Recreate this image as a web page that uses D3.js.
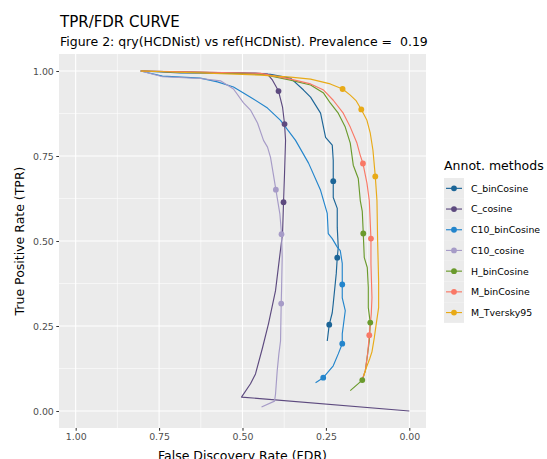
<!DOCTYPE html>
<html>
<head>
<meta charset="utf-8">
<script src="https://cdn.jsdelivr.net/npm/d3@7"></script>
<style>
  html, body { margin: 0; padding: 0; background: #ffffff; }
  svg { display: block; font-family: "DejaVu Sans", sans-serif; }
  .keep-space { white-space: pre; }
</style>
</head>
<body>
<svg id="chart" width="547" height="459"></svg>
<script>
// Series names, in legend order, and their colours
const methods = ["C_binCosine", "C_cosine", "C10_binCosine", "C10_cosine", "H_binCosine", "M_binCosine", "M_Tversky95"];
const colors  = ["#1c6597", "#5d4a7f", "#2385cc", "#a69bc7", "#6a9a2c", "#f97866", "#e8aa17"];

// Curves: [FDR, TPR]
const C_binCosine = [[0.805,1.0],[0.686,0.994],[0.506,0.993],[0.416,0.990],[0.356,0.979],[0.317,0.944],[0.296,0.923],[0.266,0.876],[0.251,0.805],[0.231,0.782],[0.228,0.737],[0.228,0.676],[0.228,0.628],[0.216,0.596],[0.216,0.540],[0.213,0.481],[0.216,0.451],[0.219,0.404],[0.228,0.316],[0.231,0.289],[0.240,0.254],[0.246,0.206]];
const C_cosine = [[0.805,1.0],[0.626,0.996],[0.461,0.994],[0.425,0.991],[0.410,0.973],[0.392,0.941],[0.380,0.894],[0.374,0.844],[0.371,0.796],[0.374,0.699],[0.377,0.614],[0.380,0.522],[0.389,0.451],[0.401,0.354],[0.422,0.257],[0.440,0.186],[0.461,0.109],[0.476,0.080],[0.503,0.041],[0.0,0.0]];
const C10_binCosine = [[0.805,1.0],[0.740,0.985],[0.626,0.979],[0.575,0.968],[0.527,0.953],[0.476,0.923],[0.425,0.891],[0.386,0.855],[0.341,0.796],[0.302,0.729],[0.266,0.649],[0.246,0.581],[0.243,0.522],[0.231,0.507],[0.216,0.482],[0.207,0.472],[0.201,0.434],[0.201,0.372],[0.201,0.333],[0.192,0.295],[0.201,0.227],[0.201,0.198],[0.213,0.168],[0.228,0.133],[0.258,0.098],[0.281,0.083]];
const C10_cosine = [[0.805,1.0],[0.740,0.983],[0.626,0.978],[0.566,0.971],[0.527,0.947],[0.497,0.906],[0.476,0.885],[0.455,0.847],[0.437,0.796],[0.425,0.776],[0.416,0.746],[0.407,0.693],[0.400,0.651],[0.388,0.580],[0.383,0.520],[0.381,0.452],[0.383,0.354],[0.384,0.316],[0.386,0.206],[0.391,0.168],[0.396,0.118],[0.401,0.050],[0.404,0.029],[0.443,0.012]];
const H_binCosine = [[0.805,1.0],[0.626,0.996],[0.446,0.991],[0.356,0.973],[0.296,0.959],[0.257,0.935],[0.237,0.906],[0.213,0.876],[0.192,0.835],[0.177,0.788],[0.168,0.723],[0.153,0.684],[0.147,0.619],[0.141,0.587],[0.138,0.522],[0.135,0.451],[0.126,0.422],[0.123,0.363],[0.123,0.304],[0.117,0.260],[0.120,0.206],[0.125,0.168],[0.129,0.139],[0.132,0.118],[0.141,0.091],[0.177,0.060]];
const M_binCosine = [[0.805,1.0],[0.626,0.997],[0.446,0.993],[0.356,0.976],[0.296,0.962],[0.257,0.944],[0.228,0.914],[0.198,0.876],[0.177,0.835],[0.157,0.788],[0.147,0.752],[0.139,0.728],[0.127,0.670],[0.120,0.619],[0.117,0.552],[0.115,0.507],[0.115,0.434],[0.112,0.333],[0.114,0.286],[0.120,0.223],[0.125,0.168],[0.132,0.118],[0.142,0.091]];
const M_Tversky95 = [[0.805,1.0],[0.626,0.994],[0.446,0.988],[0.356,0.982],[0.296,0.976],[0.237,0.962],[0.200,0.947],[0.177,0.929],[0.159,0.912],[0.144,0.887],[0.127,0.855],[0.117,0.817],[0.109,0.767],[0.102,0.690],[0.097,0.619],[0.095,0.501],[0.092,0.383],[0.092,0.304],[0.099,0.257],[0.105,0.215],[0.112,0.174],[0.119,0.153],[0.129,0.127],[0.137,0.103]];

// Highlighted operating points: [FDR, TPR]
const C_binCosine_pts   = [[0.228,0.676],[0.216,0.451],[0.240,0.254]];
const C_cosine_pts      = [[0.392,0.941],[0.374,0.844],[0.377,0.614]];
const C10_binCosine_pts = [[0.201,0.372],[0.201,0.198],[0.258,0.098]];
const C10_cosine_pts    = [[0.400,0.651],[0.383,0.520],[0.384,0.316]];
const H_binCosine_pts   = [[0.138,0.522],[0.117,0.260],[0.141,0.091]];
const M_binCosine_pts   = [[0.139,0.728],[0.115,0.507],[0.120,0.223]];
const M_Tversky95_pts   = [[0.200,0.947],[0.144,0.887],[0.102,0.690]];

const curves = [C_binCosine, C_cosine, C10_binCosine, C10_cosine, H_binCosine, M_binCosine, M_Tversky95];
const points = [C_binCosine_pts, C_cosine_pts, C10_binCosine_pts, C10_cosine_pts, H_binCosine_pts, M_binCosine_pts, M_Tversky95_pts];

const xTicks = [1.00, 0.75, 0.50, 0.25, 0.00];
const yTicks = [0.00, 0.25, 0.50, 0.75, 1.00];
const xMinor = [0.875, 0.625, 0.375, 0.125];
const yMinor = [0.125, 0.375, 0.625, 0.875];

const titleText = "TPR/FDR CURVE";
const subtitleText = "Figure 2: qry(HCDNist) vs ref(HCDNist). Prevalence =  0.19";
const xTitle = "False Discovery Rate (FDR)";
const yTitle = "True Positive Rate (TPR)";
const legendTitle = "Annot. methods";

const svg = d3.select("#chart");
const panel = { left: 59, right: 426, top: 54, bottom: 428 };

// Reversed FDR axis, expanded 5% on both sides
const x = d3.scaleLinear().domain([1.05, -0.05]).range([panel.left, panel.right]);
const y = d3.scaleLinear().domain([-0.05, 1.05]).range([panel.bottom, panel.top]);

// Panel background and grid
svg.append("rect")
  .attr("x", panel.left).attr("y", panel.top)
  .attr("width", panel.right - panel.left).attr("height", panel.bottom - panel.top)
  .attr("fill", "#ebebeb");

const grid = svg.append("g");
grid.selectAll(".xmin").data(xMinor).join("line")
  .attr("x1", d => x(d)).attr("x2", d => x(d))
  .attr("y1", panel.top).attr("y2", panel.bottom)
  .attr("stroke", "#ffffff").attr("stroke-width", 0.55);
grid.selectAll(".ymin").data(yMinor).join("line")
  .attr("y1", d => y(d)).attr("y2", d => y(d))
  .attr("x1", panel.left).attr("x2", panel.right)
  .attr("stroke", "#ffffff").attr("stroke-width", 0.55);
grid.selectAll(".xmaj").data(xTicks).join("line")
  .attr("x1", d => x(d)).attr("x2", d => x(d))
  .attr("y1", panel.top).attr("y2", panel.bottom)
  .attr("stroke", "#ffffff").attr("stroke-width", 1.1);
grid.selectAll(".ymaj").data(yTicks).join("line")
  .attr("y1", d => y(d)).attr("y2", d => y(d))
  .attr("x1", panel.left).attr("x2", panel.right)
  .attr("stroke", "#ffffff").attr("stroke-width", 1.1);

// Axes
const xAxis = d3.axisBottom(x).tickValues(xTicks).tickFormat(d3.format(".2f")).tickSize(2.7).tickPadding(2.5);
const yAxis = d3.axisLeft(y).tickValues(yTicks).tickFormat(d3.format(".2f")).tickSize(2.7).tickPadding(2.5);

const gx = svg.append("g").attr("transform", `translate(0,${panel.bottom})`).call(xAxis);
const gy = svg.append("g").attr("transform", `translate(${panel.left},0)`).call(yAxis);
[gx, gy].forEach(g => {
  g.select(".domain").remove();
  g.selectAll(".tick line").attr("stroke", "#333333").attr("stroke-width", 1.05);
  g.selectAll(".tick text").attr("fill", "#4d4d4d").attr("font-size", "9.4px")
    .attr("font-family", "DejaVu Sans, sans-serif");
});

// Curves
const line = d3.line().x(d => x(d[0])).y(d => y(d[1]));
const plot = svg.append("g");
curves.forEach((c, i) => {
  plot.append("path")
    .attr("d", line(c))
    .attr("fill", "none")
    .attr("stroke", colors[i])
    .attr("stroke-width", 1.15)
    .attr("stroke-linejoin", "round");
});
points.forEach((p, i) => {
  plot.selectAll(null).data(p).join("circle")
    .attr("cx", d => x(d[0])).attr("cy", d => y(d[1]))
    .attr("r", 2.9).attr("fill", colors[i]);
});

// Titles
svg.append("text").attr("x", 60).attr("y", 27)
  .attr("font-size", "15px").attr("fill", "#000").text(titleText);
svg.append("text").attr("class", "keep-space").attr("x", 60).attr("y", 46)
  .attr("font-size", "12.5px").attr("fill", "#000").text(subtitleText);

svg.append("text")
  .attr("x", (panel.left + panel.right) / 2).attr("y", 460)
  .attr("text-anchor", "middle").attr("font-size", "12.5px").attr("fill", "#000")
  .text(xTitle);
svg.append("text")
  .attr("transform", `translate(24,${(panel.top + panel.bottom) / 2}) rotate(-90)`)
  .attr("text-anchor", "middle").attr("font-size", "12.5px").attr("fill", "#000")
  .text(yTitle);

// Legend
const legend = svg.append("g").attr("transform", "translate(444,170)");
legend.append("text").attr("x", 0).attr("y", 0)
  .attr("font-size", "12.5px").attr("fill", "#000").text(legendTitle);
const keyH = 20.7, keyW = 20, keyTop = 8;
const items = legend.selectAll(".item").data(methods).join("g")
  .attr("transform", (d, i) => `translate(0,${keyTop + i * keyH})`);
items.append("rect").attr("width", keyW).attr("height", keyH).attr("fill", "#ebebeb");
items.append("line")
  .attr("x1", 2).attr("x2", keyW - 2).attr("y1", keyH / 2).attr("y2", keyH / 2)
  .attr("stroke", (d, i) => colors[i]).attr("stroke-width", 1.15);
items.append("circle").attr("cx", keyW / 2).attr("cy", keyH / 2).attr("r", 2.9)
  .attr("fill", (d, i) => colors[i]);
items.append("text").attr("x", 27).attr("y", keyH / 2 + 3.4)
  .attr("font-size", "9.4px").attr("fill", "#000").text(d => d);
</script>
</body>
</html>
